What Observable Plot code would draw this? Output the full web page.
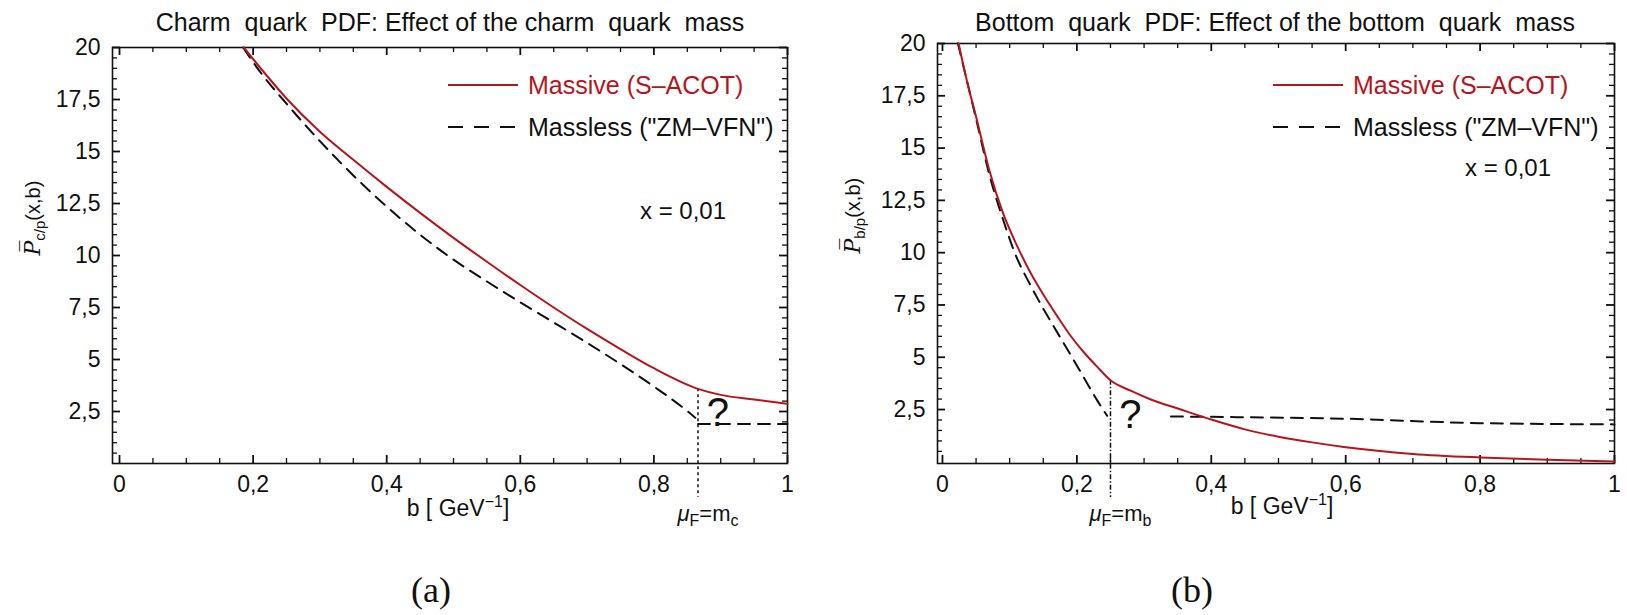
<!DOCTYPE html>
<html><head><meta charset="utf-8">
<script src="https://cdn.jsdelivr.net/npm/d3@7"></script>
<script src="https://cdn.jsdelivr.net/npm/@observablehq/plot@0.6"></script>
<style>
body{margin:0;background:#fff;}
#wrap{position:relative;width:1627px;height:615px;overflow:hidden;background:#fff;font-family:"Liberation Sans",Arial,sans-serif;color:#111;}
#row{display:flex;align-items:flex-start;width:1627px;}
#row svg{flex:none;}
.abs{position:absolute;white-space:pre;line-height:30px;}
</style></head><body><div id="wrap"><div id="row"></div></div>
<script>
// ---- ticks ----
const xMajor = [0, 0.2, 0.4, 0.6, 0.8, 1];
const xLabels = ["0", "0,2", "0,4", "0,6", "0,8", "1"];
const xMinor = [0.05,0.1,0.15,0.25,0.3,0.35,0.45,0.5,0.55,0.65,0.7,0.75,0.85,0.9,0.95];
const yMajor = [2.5, 5, 7.5, 10, 12.5, 15, 17.5, 20];
const yLabels = ["2,5", "5", "7,5", "10", "12,5", "15", "17,5", "20"];
const yMinor = d3.range(0.5, 20, 0.5).filter(v => Math.abs(v / 2.5 - Math.round(v / 2.5)) > 1e-6);

// ---- (a) charm ----
const charmB        = [0.186, 0.21, 0.25, 0.30, 0.35, 0.40, 0.45, 0.50, 0.55, 0.60, 0.65, 0.70, 0.75, 0.80, 0.866, 0.90, 0.95, 1.0];
const charmMassive  = [20, 19.05, 17.55, 15.95, 14.6, 13.3, 12.05, 10.85, 9.7, 8.58, 7.5, 6.47, 5.5, 4.58, 3.59, 3.3, 3.08, 2.87];
const charmMasslessB = [0.185, 0.21, 0.25, 0.30, 0.35, 0.40, 0.45, 0.50, 0.55, 0.60, 0.65, 0.70, 0.75, 0.80, 0.85, 0.862, 0.866, 1.0];
const charmMassless  = [20, 18.85, 17.3, 15.5, 13.85, 12.35, 11.0, 9.8, 8.75, 7.75, 6.78, 5.8, 4.78, 3.7, 2.52, 2.2, 1.9, 1.9];
const charmMasslessSeg = [0,0,0,0,0,0,0,0,0,0,0,0,0,0,0,0,1,1];
const charmThreshold = {b: 0.866, v: 3.59, q: "c"};

// ---- (b) bottom ----
const bottomB       = [0.024, 0.035, 0.05, 0.07, 0.09, 0.11, 0.13, 0.15, 0.17, 0.19, 0.21, 0.23, 0.25, 0.28, 0.31, 0.35, 0.40, 0.45, 0.50, 0.55, 0.60, 0.70, 0.80, 0.90, 1.0];
const bottomMassive = [20, 18.4, 16.5, 13.9, 11.9, 10.4, 9.1, 8.0, 7.0, 6.05, 5.25, 4.55, 3.9, 3.4, 2.98, 2.55, 2.02, 1.55, 1.2, 0.93, 0.70, 0.38, 0.21, 0.10, 0.02];
const bottomMasslessB = [0.023, 0.05, 0.07, 0.09, 0.11, 0.13, 0.146, 0.166, 0.19, 0.21, 0.23, 0.245, 0.34, 0.40, 0.60, 0.80, 1.0];
const bottomMassless  = [20, 16.4, 13.7, 11.6, 9.8, 8.5, 7.55, 6.45, 5.15, 4.05, 2.95, 2.2, 2.17, 2.15, 2.06, 1.85, 1.79];
const bottomMasslessSeg = [0,0,0,0,0,0,0,0,0,0,0,0,1,1,1,1,1];
const bottomThreshold = {b: 0.25, v: 3.9, q: "b"};

const RED = "#b8141c";
const INK = "#111";

function table(bs, vs, segs) { return bs.map((b, i) => ({b, v: vs[i], seg: segs ? segs[i] : 0})); }

function panel(cfg) {
  const {width, height, ml, mr, mt, mb, xDomain, yDomain, massive, massless, thr, ylab, ylabDx, xlabDx, xlabDy, qDy, ruleDash} = cfg;
  const pw = width - ml - mr, ph = height - mt - mb;
  const TL = 8, ML = 5;
  const tickStyle = {stroke: INK, strokeWidth: 1.8};
  const minorStyle = {stroke: INK, strokeWidth: 1.3};
  const svg = Plot.plot({
    width, height, marginLeft: ml, marginRight: mr, marginTop: mt, marginBottom: mb,
    style: {fontFamily: "'Liberation Sans', Arial, sans-serif", fontSize: "23px", color: INK, background: "transparent", overflow: "visible"},
    x: {domain: xDomain},
    y: {domain: yDomain},
    marks: [
      // inward ticks: bottom, top, left, right
      Plot.ruleX(xMajor, {x: d => d, insetTop: ph - TL, ...tickStyle}),
      Plot.ruleX(xMinor, {x: d => d, insetTop: ph - ML, ...minorStyle}),
      Plot.ruleX(xMajor, {x: d => d, insetBottom: ph - TL, ...tickStyle}),
      Plot.ruleX(xMinor, {x: d => d, insetBottom: ph - ML, ...minorStyle}),
      Plot.ruleY(yMajor, {y: d => d, insetRight: pw - TL, ...tickStyle}),
      Plot.ruleY(yMinor, {y: d => d, insetRight: pw - ML, ...minorStyle}),
      Plot.ruleY(yMajor, {y: d => d, insetLeft: pw - TL, ...tickStyle}),
      Plot.ruleY(yMinor, {y: d => d, insetLeft: pw - ML, ...minorStyle}),
      Plot.frame({stroke: INK, strokeWidth: 1.6}),
      Plot.axisX({ticks: xMajor, tickSize: 0, tickPadding: 12, tickFormat: d => xLabels[xMajor.indexOf(d)], label: null}),
      Plot.axisY({ticks: yMajor, tickSize: 0, tickPadding: 12, tickFormat: d => yLabels[yMajor.indexOf(d)], label: null}),
      // threshold rule
      Plot.ruleX([thr], {x: "b", y1: "v", y2: () => yDomain[0], insetBottom: -34, stroke: INK, strokeWidth: 1.5, strokeDasharray: ruleDash}),
      Plot.line(massless, {x: "b", y: "v", z: "seg", stroke: INK, strokeWidth: 2, strokeDasharray: "12,8", curve: "monotone-x"}),
      Plot.line(massive, {x: "b", y: "v", stroke: RED, strokeWidth: 2, curve: "monotone-x"}),
      Plot.text([thr], {x: "b", frameAnchor: "bottom", dy: qDy, dx: 20, text: () => "?", fontSize: 40}),
      Plot.text([thr], {x: "b", frameAnchor: "bottom", dy: 57, dx: 10, text: d => "μF=m" + d.q, fontSize: 22}),
      Plot.text([ylab], {frameAnchor: "left", dx: ylabDx, rotate: -90, text: d => d, fontSize: 20}),
      Plot.text(["b [ GeV-1]"], {frameAnchor: "bottom", dx: xlabDx, dy: xlabDy, text: d => d, fontSize: 23})
    ]
  });
  return svg;
}

const NS = "http://www.w3.org/2000/svg";
function rich(svg, str, parts) {
  svg.querySelectorAll("text").forEach(t => {
    if (t.textContent === str) {
      t.textContent = "";
      for (const p of parts) {
        const ts = document.createElementNS(NS, "tspan");
        ts.textContent = p.t;
        for (const k in (p.a || {})) ts.setAttribute(k, p.a[k]);
        t.appendChild(ts);
      }
    }
  });
}
function richAll(svg, q, qlabel) {
  rich(svg, "b [ GeV-1]", [
    {t: "b [ GeV"}, {t: "−1", a: {dy: "-9", "font-size": "16"}}, {t: "]", a: {dy: "9"}}
  ]);
  rich(svg, "μF=m" + q, [
    {t: "μ", a: {"font-style": "italic"}}, {t: "F", a: {dy: "5", "font-size": "16"}},
    {t: "=m", a: {dy: "-5"}}, {t: q, a: {dy: "5", "font-size": "16"}}
  ]);
  rich(svg, qlabel, [
    {t: "P\u0305", a: {"font-family": "'DejaVu Serif', serif", "font-style": "italic", "font-size": "22"}},
    {t: q + "/p", a: {dy: "5", "font-size": "15"}},
    {t: "(x,b)", a: {dy: "-5"}}
  ]);
}

const wrap = document.getElementById("wrap");
const row = document.getElementById("row");

const left = panel({
  width: 815, height: 560, ml: 112, mr: 28, mt: 47, mb: 97,
  xDomain: [-0.0105, 1], yDomain: [0, 20],
  massive: table(charmB, charmMassive), massless: table(charmMasslessB, charmMassless, charmMasslessSeg),
  thr: charmThreshold, ylab: "Pc/p(x,b)", ylabDx: -79, xlabDx: 8, xlabDy: 52, qDy: -38, ruleDash: "3,3"
});
richAll(left, "c", "Pc/p(x,b)");
row.appendChild(left);

const right = panel({
  width: 812, height: 560, ml: 122, mr: 13, mt: 43, mb: 97,
  xDomain: [-0.0074, 1], yDomain: [-0.08, 20],
  massive: table(bottomB, bottomMassive), massless: table(bottomMasslessB, bottomMassless, bottomMasslessSeg),
  thr: bottomThreshold, ylab: "Pb/p(x,b)", ylabDx: -84, xlabDx: 6, xlabDy: 50, qDy: -36, ruleDash: "5,2,1.5,2"
});
richAll(right, "b", "Pb/p(x,b)");
row.appendChild(right);

// ---- titles, legends, notes, captions (HTML) ----
function div(text, css) {
  const d = document.createElement("div");
  d.className = "abs";
  d.textContent = text;
  Object.assign(d.style, css);
  wrap.appendChild(d);
  return d;
}
div("Charm  quark  PDF: Effect of the charm  quark  mass", {left: "50px", width: "800px", top: "7px", textAlign: "center", fontSize: "25px"});
div("Bottom  quark  PDF: Effect of the bottom  quark  mass", {left: "875px", width: "800px", top: "7px", textAlign: "center", fontSize: "25px"});

const legendItems = [
  {label: "Massive (S–ACOT)", color: RED, dash: null, y: 85},
  {label: "Massless (\"ZM–VFN\")", color: INK, dash: "15,11", y: 127}
];
function legend(lx) {
  for (const it of legendItems) {
    const sw = document.createElementNS(NS, "svg");
    sw.setAttribute("width", 72); sw.setAttribute("height", 10);
    Object.assign(sw.style, {position: "absolute", left: lx + "px", top: (it.y - 5) + "px"});
    const ln = document.createElementNS(NS, "line");
    ln.setAttribute("x1", 0); ln.setAttribute("x2", 70); ln.setAttribute("y1", 5); ln.setAttribute("y2", 5);
    ln.setAttribute("stroke", it.color); ln.setAttribute("stroke-width", 2);
    if (it.dash) ln.setAttribute("stroke-dasharray", it.dash);
    sw.appendChild(ln);
    wrap.appendChild(sw);
    div(it.label, {left: (lx + 80) + "px", top: (it.y - 15) + "px", fontSize: "25px", color: it.color});
  }
}
legend(448);
legend(1273);
div("x = 0,01", {left: "640px", top: "196px", fontSize: "24px"});
div("x = 0,01", {left: "1465px", top: "153px", fontSize: "24px"});
div("(a)", {left: "331px", width: "200px", textAlign: "center", top: "572px", fontSize: "36px", fontFamily: "'Liberation Serif', serif", lineHeight: "36px"});
div("(b)", {left: "1092px", width: "200px", textAlign: "center", top: "572px", fontSize: "36px", fontFamily: "'Liberation Serif', serif", lineHeight: "36px"});
</script></body></html>
